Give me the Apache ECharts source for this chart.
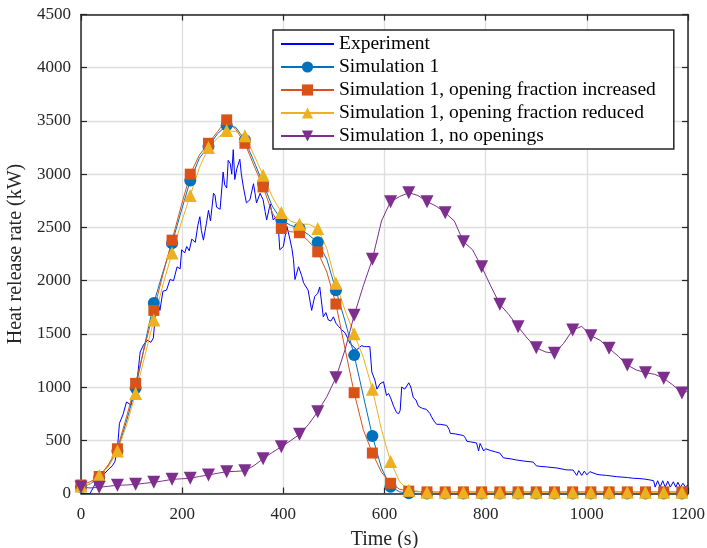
<!DOCTYPE html>
<html><head><meta charset="utf-8">
<script src="https://cdn.jsdelivr.net/npm/echarts@6/dist/echarts.min.js"></script>
<style>html,body{margin:0;padding:0;background:#fff}#c{width:707px;height:548px}</style>
</head><body><div id="c"></div>
<script>
// ---------- data ----------
const seriesNames = ['Experiment', 'Simulation 1', 'Simulation 1, opening fraction increased', 'Simulation 1, opening fraction reduced', 'Simulation 1, no openings'];

const expTime = [0,18,28,37,45,55,62,67,72,76,83,90,99,104,109,113,117,124,132,138,143,150,156,162,169,176,183,190,196,199,205,209,214,219,226,231,235,238,242,248,252,256,262,265,268,275,281,284,288,291,295,298,301,304,308,314,317,321,327,334,341,347,354,360,364,367,374,380,386,390,393,400,407,413,417,420,423,430,436,440,449,453,456,462,468,472,476,479,484,489,494,499,504,509,515,522,527,532,538,545,550,555,560,565,571,575,581,585,591,598,604,608,612,618,624,628,631,634,640,644,648,652,657,662,667,675,683,690,693,698,703,710,723,728,730,740,756,760,763,770,782,786,789,792,796,800,809,820,828,835,850,861,875,894,900,907,920,940,960,973,980,984,990,995,1000,1006,1020,1026,1039,1059,1080,1092,1105,1115,1125,1132,1135,1140,1145,1150,1155,1160,1165,1171,1176,1180,1185,1190,1195,1200];
const expHRR = [0,0,90,150,180,230,260,300,420,660,740,860,830,960,1000,1150,1330,1400,1440,1420,1460,1840,1720,1900,1910,2010,2000,2130,2110,2290,2260,2320,2280,2390,2360,2520,2600,2470,2380,2540,2660,2560,2820,2800,2690,2670,3020,2900,2870,3130,3100,3000,3230,2950,3050,3140,3000,2880,2730,2760,2910,2730,2820,2760,2650,2570,2720,2570,2600,2510,2290,2320,2510,2390,2300,2200,2010,2130,2050,1980,1910,1800,1720,1850,1880,1940,1780,1660,1700,1630,1620,1660,1600,1570,1540,1510,1460,1410,1380,1350,1370,1390,1380,1380,1380,1140,1066,980,1030,1050,920,940,900,820,760,750,780,1000,980,1010,1040,1000,900,880,820,800,790,750,720,680,650,650,640,600,565,560,545,520,490,485,475,400,470,440,400,420,405,390,380,335,325,315,305,295,260,255,250,240,222,220,170,215,170,210,175,205,180,175,170,158,150,143,140,135,127,120,60,120,60,120,60,115,60,110,60,105,60,96,60,80];

const simTime = [0,18,36,54,72,90,108,126,144,162,180,198,216,234,252,270,288,306,324,342,360,378,396,414,432,450,468,486,504,522,540,558,576,594,612,630,648,684,720,756,792,828,864,900,936,972,1008,1044,1080,1116,1152,1188];
const sim1HRR = [60,90,150,260,400,680,990,1400,1790,2080,2350,2650,2940,3150,3260,3380,3460,3440,3320,3120,2910,2700,2570,2520,2490,2430,2360,2200,1910,1620,1300,920,540,240,64,15,2,0,0,0,0,0,0,0,0,0,0,0,0,0,0,0];
const simIncHRR = [80,110,160,270,420,720,1035,1380,1720,2060,2380,2700,3000,3180,3290,3400,3510,3420,3290,3080,2880,2640,2490,2460,2450,2370,2270,2080,1780,1360,947,600,380,200,96,40,22,15,15,15,15,15,15,15,15,15,15,15,15,15,15,15];
const simRedHRR = [70,90,170,250,400,640,940,1290,1630,1960,2260,2540,2800,3060,3250,3340,3410,3400,3360,3180,2990,2790,2640,2560,2530,2530,2490,2300,1975,1720,1500,1280,980,600,300,110,30,12,12,12,12,12,12,12,12,12,12,12,12,12,12,12];

const noOpenTime = [0,18,36,54,72,90,108,126,144,162,180,198,216,234,252,270,288,306,324,342,360,378,396,414,432,450,468,486,504,522,540,558,576,594,612,630,648,666,684,702,720,738,756,774,792,810,828,846,864,882,900,918,936,954,972,990,1008,1026,1044,1062,1080,1098,1116,1134,1152,1170,1188,1200];
const noOpenHRR = [60,52,58,68,77,80,86,96,105,118,133,138,143,160,174,190,205,208,214,262,327,385,440,495,556,650,769,910,1088,1350,1674,1950,2200,2560,2742,2790,2826,2800,2742,2700,2638,2560,2366,2290,2131,1950,1778,1680,1567,1460,1370,1330,1317,1410,1536,1570,1483,1440,1364,1290,1207,1160,1135,1120,1082,1020,945,960];

const xTicks = {min: 0, max: 1200, step: 200};
const yTicks = {min: 0, max: 4500, step: 500};
const markerEvery = 36;

// ---------- chart ----------
const FONT = 'Liberation Serif';
const AX = '#262626';
const zip = (t, v) => t.map((x, i) => [x, v[i]]);
const markSize = s => (val) => (val[0] % markerEvery === 0 ? s : 0);
const plain = v => String(v);

const chart = echarts.init(document.getElementById('c'), null, {renderer: 'canvas'});

const axisCommon = {
  type: 'value',
  axisLine: {show: true, onZero: false, lineStyle: {color: AX, width: 1.5}},
  axisTick: {show: true, inside: true, length: 6, lineStyle: {color: AX, width: 1.2}},
};

function lineSeries(name, data, color, symbol, extra) {
  return Object.assign({
    name, type: 'line', data, xAxisIndex: 0, yAxisIndex: 0,
    color, symbol, showSymbol: true, showAllSymbol: true,
    symbolSize: markSize(12),
    lineStyle: {color, width: 1},
    itemStyle: {color, borderWidth: 0},
    emphasis: {disabled: true}, animation: false, z: 2
  }, extra || {});
}

chart.setOption({
  animation: false,
  backgroundColor: '#fff',
  grid: {left: 81, right: 19, top: 14.5, bottom: 54.5, containLabel: false, outerBoundsMode: 'none'},
  legend: {
    orient: 'vertical', left: 273, top: 30,
    backgroundColor: '#fff', borderColor: AX, borderWidth: 1.5,
    padding: [4, 18, 3, 7], itemWidth: 53, itemHeight: 14, itemGap: 3,
    textStyle: {fontFamily: FONT, fontSize: 19.5, color: '#000'},
    data: [{name: seriesNames[0], itemStyle: {opacity: 0}}].concat(seriesNames.slice(1))
  },
  xAxis: [
    Object.assign({}, axisCommon, {
      position: 'bottom', min: xTicks.min, max: xTicks.max, interval: xTicks.step,
      axisLabel: {color: AX, fontFamily: FONT, fontSize: 17, margin: 13, formatter: plain},
      splitLine: {show: true, lineStyle: {color: '#dedede', width: 1.3}},
      name: 'Time (s)', nameLocation: 'middle', nameGap: 36,
      nameTextStyle: {fontFamily: FONT, fontSize: 20, color: AX}
    }),
    Object.assign({}, axisCommon, {
      position: 'top', min: xTicks.min, max: xTicks.max, interval: xTicks.step,
      axisLabel: {show: false}, splitLine: {show: false}
    })
  ],
  yAxis: [
    Object.assign({}, axisCommon, {
      position: 'left', min: yTicks.min, max: yTicks.max, interval: yTicks.step,
      axisLabel: {color: AX, fontFamily: FONT, fontSize: 17, margin: 10, formatter: plain},
      splitLine: {show: true, lineStyle: {color: '#dedede', width: 1.3}},
      name: 'Heat release rate (kW)', nameLocation: 'middle', nameGap: 50,
      nameTextStyle: {fontFamily: FONT, fontSize: 20, color: AX}
    }),
    Object.assign({}, axisCommon, {
      position: 'right', min: yTicks.min, max: yTicks.max, interval: yTicks.step,
      axisLabel: {show: false}, splitLine: {show: false}
    })
  ],
  series: [
    {name: seriesNames[0], type: 'line', data: zip(expTime, expHRR), color: '#0000FF',
     symbol: 'none', showSymbol: false, lineStyle: {color: '#0000FF', width: 1},
     emphasis: {disabled: true}, z: 2},
    lineSeries(seriesNames[1], zip(simTime, sim1HRR), '#0072BD', 'circle'),
    lineSeries(seriesNames[2], zip(simTime, simIncHRR), '#D95319', 'rect', {symbolSize: markSize(11)}),
    lineSeries(seriesNames[3], zip(simTime, simRedHRR), '#EDB120', 'triangle', {symbolSize: markSize(13)}),
    lineSeries(seriesNames[4], zip(noOpenTime, noOpenHRR), '#7E2F8E', 'triangle', {symbolSize: markSize(13), symbolRotate: 180})
  ]
});
</script>
</body></html>
